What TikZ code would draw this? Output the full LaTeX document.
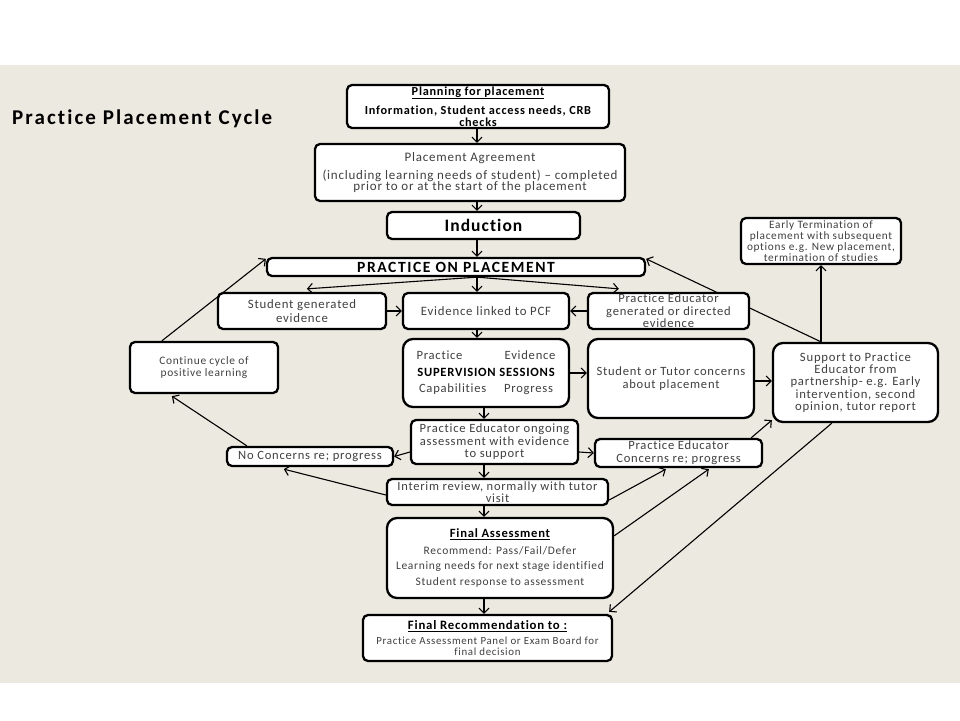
\documentclass[tikz,border=0pt]{standalone}
\usepackage{fontspec}
\setmainfont{Carlito}[LetterSpace=6,Ligatures=NoCommon]
\newfontfamily\widefont{Carlito}[LetterSpace=10,Ligatures=NoCommon]
\usetikzlibrary{arrows.meta,calc,backgrounds}
\definecolor{bgbeige}{RGB}{236,233,224}
\definecolor{txtgray}{RGB}{64,64,64}
\newcommand\fsz[2]{\fontsize{#1}{#2}\selectfont}
\tikzset{
  box/.style={draw=black, fill=white, line width=2.3pt, rounded corners=5pt, inner sep=0pt, align=center, text=txtgray},
  rbox/.style={box, rounded corners=10pt},
  conn/.style={line width=1.1pt, -{Straight Barb[length=5pt,width=10pt,line width=1.1pt]}},
  plainline/.style={line width=1.1pt}
}
\begin{document}
\begin{tikzpicture}[x=1pt,y=-1pt]
\useasboundingbox (0,0) rectangle (960,720);
% nodes
\node[anchor=west, inner sep=0pt, font=\widefont\bfseries\fsz{21}{22}] (title) at (12,119) {Practice Placement Cycle};
\node[box, text=black, minimum width=262pt, minimum height=43pt, font=\bfseries\fsz{12.3}{11.6}] (plan) at (478,106.5)
  {\underline{Planning for placement}\\[6pt]Information, Student access needs, CRB\\checks};
\node[box, minimum width=310pt, minimum height=57pt, font=\fsz{13}{11.5}] (agree) at (470,172.5)
  {Placement Agreement\\[5pt](including learning needs of student) -- completed\\prior to or at the start of the placement};
\node[box, text=black, minimum width=193pt, minimum height=27pt, font=\bfseries\fsz{17.5}{18}] (induct) at (483.5,225.5) {Induction};
\node[box, text=black, minimum width=378pt, minimum height=18pt, font=\widefont\bfseries\fsz{15.6}{16}] (pop) at (456,267) {PRACTICE ON PLACEMENT};
\node[box, minimum width=168pt, minimum height=36pt, font=\fsz{12.8}{13.6}] (sge) at (302,311) {Student generated\\evidence};
\node[box, minimum width=166pt, minimum height=36pt, font=\fsz{12.8}{13.6}] (elp) at (486,311) {Evidence linked to PCF};
\node[box, minimum width=161pt, minimum height=36pt, font=\fsz{12.6}{12.5}] (peg) at (668.5,311) {Practice Educator\\generated or directed\\evidence};
\node[box, minimum width=148pt, minimum height=51pt, font=\fsz{11.4}{11.7}] (cont) at (204,367.5) {Continue cycle of\\positive learning};
\node[rbox, minimum width=166pt, minimum height=68pt, font=\fsz{12.6}{16.7}] (sup) at (486,373)
  {\makebox[139pt]{Practice\hfill Evidence}\\\makebox[139pt]{\color{black}\bfseries SUPERVISION SESSIONS}\\\makebox[134pt]{Capabilities\hfill Progress}};
\node[rbox, minimum width=166pt, minimum height=79pt, font=\fsz{12.6}{13.3}] (stc) at (671,378.5) {Student or Tutor concerns\\about placement};
\node[box, minimum width=160pt, minimum height=46pt, font=\fsz{11.3}{11}] (early) at (821,241)
  {Early Termination of\\placement with subsequent\\options e.g. New placement,\\termination of studies};
\node[rbox, minimum width=165pt, minimum height=79pt, font=\fsz{12.7}{12.3}] (supp) at (855.5,382.5)
  {Support to Practice\\Educator from\\partnership- e.g. Early\\intervention, second\\opinion, tutor report};
\node[box, minimum width=167pt, minimum height=44pt, font=\fsz{12.6}{12.5}] (peo) at (494.5,442)
  {Practice Educator ongoing\\assessment with evidence\\to support};
\node[box, minimum width=166pt, minimum height=19pt, font=\fsz{12.6}{13}] (noc) at (310,456.5) {No Concerns re; progress};
\node[box, minimum width=221pt, minimum height=26pt, font=\fsz{12.5}{11.4}] (interim) at (497.5,492) {Interim review, normally with tutor\\visit};
\node[box, minimum width=167pt, minimum height=28pt, font=\fsz{12.6}{13.3}] (pec) at (678.5,453) {Practice Educator\\Concerns re; progress};
\node[rbox, minimum width=226pt, minimum height=80pt, font=\fsz{11.5}{15.5}] (fa) at (500,558)
  {{\color{black}\bfseries\fsz{12.6}{15.5}\underline{Final Assessment}}\\[1pt]Recommend: Pass/Fail/Defer\\Learning needs for next stage identified\\Student response to assessment};
\node[box, minimum width=249pt, minimum height=46pt, font=\fsz{10.9}{11}] (frec) at (487.5,638)
  {{\color{black}\bfseries\fsz{12.8}{11}\underline{Final Recommendation to :}}\\[4pt]Practice Assessment Panel or Exam Board for\\final decision};
\coordinate (vx) at (477,0);
\coordinate (vy) at (484,0);
% background and connectors
\begin{pgfonlayer}{background}
\fill[white] (0,0) rectangle (960,720);
\fill[bgbeige] (0,65) rectangle (960,683);
\draw[conn] (plan.south -| vx) -- (agree.north -| vx);
\draw[conn] (agree.south -| vx) -- (induct.north -| vx);
\draw[conn] (induct.south -| vx) -- (pop.north -| vx);
\draw[conn] (pop.south -| vx) -- ($(sge.north west)+(90,-3)$);
\draw[conn] (pop.south -| vx) -- (elp.north -| vx);
\draw[conn] (pop.south -| vx) -- ($(peg.north west)+(32,-3)$);
\draw[conn] (sge.east) -- (elp.west);
\draw[conn] (peg.west) -- (elp.east);
\draw[conn] (elp.south -| vx) -- (sup.north -| vx);
\draw[conn] (sup.east) -- (sup.east -| stc.west);
\draw[conn] ([yshift=-2.5pt]stc.east) -- ([yshift=1.5pt]supp.west);
\draw[conn] (supp.north -| early.south) -- (early.south);
\draw[conn] (supp.north -| early.south) -- ([yshift=-2pt]pop.north east);
\draw[conn] ($(cont.north west)+(33,0)$) -- ([yshift=-2pt]pop.north west);
\draw[conn] ($(noc.north west)+(21,0)$) -- ($(cont.south west)+(43,2)$);
\draw[conn] ([yshift=-10pt]peo.west) -- (noc.east);
\draw[conn] ([yshift=-10pt]peo.east) -- (pec.west);
\draw[conn] (sup.south -| vy) -- (peo.north -| vy);
\draw[conn] (peo.south -| vy) -- (interim.north -| vy);
\draw[conn] ([yshift=-3pt]interim.west) -- ($(noc.south west)+(58,2)$);
\draw[conn] ($(interim.east)+(0,8)$) -- ($(pec.south west)+(72,1)$);
\draw[conn] ($(fa.north east)+(0,19)$) -- ($(pec.south west)+(115,1)$);
\draw[conn] ($(pec.north east)+(-12,0)$) -- ($(supp.south west)+(0,-3)$);
\draw[conn] ($(supp.south west)+(60,0)$) -- ($(frec.north east)+(-4,-2)$);
\draw[conn] (interim.south -| vy) -- (fa.north -| vy);
\draw[conn] (fa.south -| vy) -- (frec.north -| vy);
\end{pgfonlayer}
\end{tikzpicture}
\end{document}
